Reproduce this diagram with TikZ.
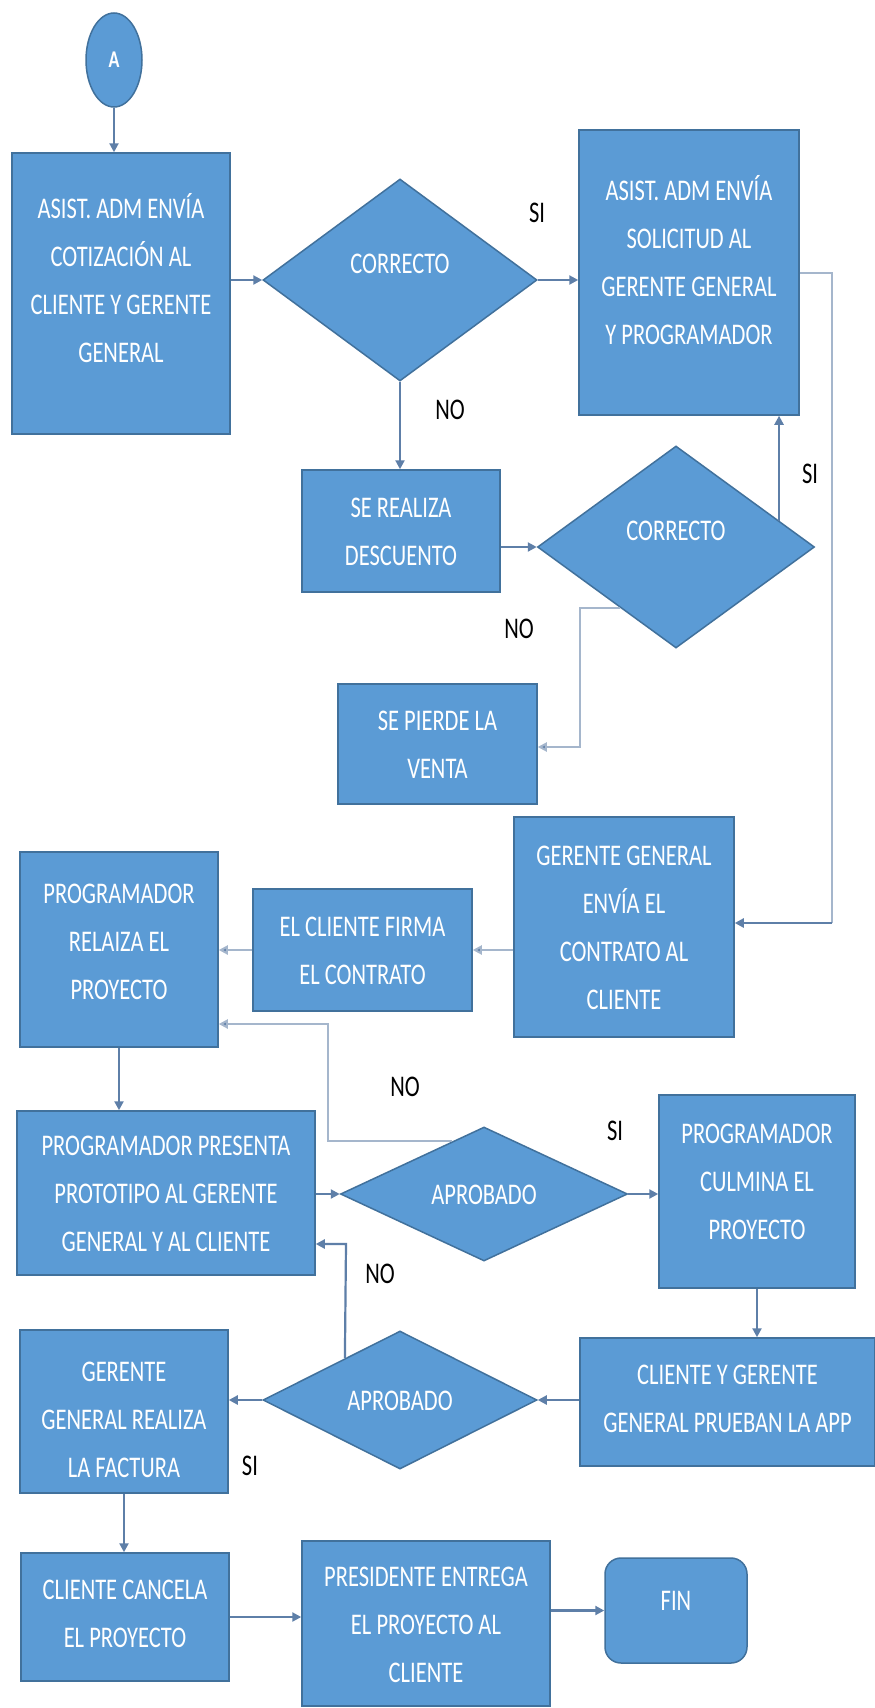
\documentclass[tikz,border=0pt]{standalone}
\usepackage{fontspec}
\usetikzlibrary{shapes.geometric,arrows.meta,calc}
\newfontfamily\boxfont[FakeStretch=0.75]{Carlito}
\definecolor{boxblue}{HTML}{5B9BD5}
\definecolor{boxedge}{HTML}{41719C}
\definecolor{lnk}{HTML}{5E7FA8}
\definecolor{lnklight}{HTML}{A5B6CC}
\newcommand\tx[2][0pt]{\raisebox{\dimexpr#1-7.5pt\relax}[0pt][0pt]{\begin{tabular}{@{}c@{}}#2\end{tabular}}}
\begin{document}
\begin{tikzpicture}[x=1pt,y=-1pt,
  box/.style={rectangle, fill=boxblue, draw=boxedge, line width=1.5pt, inner sep=0pt, text=white,
    font={\boxfont\fontsize{30}{48}\selectfont}},
  dia/.style={diamond, fill=boxblue, draw=boxedge, line width=1.5pt, inner sep=0pt, text=white,
    font={\boxfont\fontsize{30}{48}\selectfont}},
  term/.style={box, rounded corners=16pt},
  conn/.style={ellipse, fill=boxblue, draw=boxedge, line width=1.5pt, inner sep=0pt, text=white,
    font={\boxfont\bfseries\fontsize{24}{28}\selectfont}},
  lbl/.style={inner sep=0pt, text=black, font={\boxfont\fontsize{30}{36}\selectfont}},
  arr/.style={draw=lnk, line width=2.2pt, -{Triangle[length=9pt,width=9pt]}},
  arrl/.style={draw=lnklight, line width=2pt, -{Triangle[length=9pt,width=9pt,fill=lnk]}},
  ln/.style={draw=lnklight, line width=2pt}
]
\useasboundingbox[fill=white] (0,0) rectangle (875,1708);

% nodes
\node[conn, minimum width=56pt, minimum height=94pt] (A) at (114,60) {A};
\node[box, minimum width=218pt, minimum height=281pt] (b1) at (121,293.5)
  {\tx[14pt]{ASIST. ADM ENVÍA\\COTIZACIÓN AL\\CLIENTE Y GERENTE\\GENERAL}};
\node[dia, minimum width=274pt, minimum height=202pt] (d1) at (400,280) {\tx[17pt]{CORRECTO}};
\node[box, minimum width=220pt, minimum height=285pt] (b2) at (689,272.5)
  {\tx[11pt]{ASIST. ADM ENVÍA\\SOLICITUD AL\\GERENTE GENERAL\\Y PROGRAMADOR}};
\node[box, minimum width=198pt, minimum height=122pt] (b3) at (401,531)
  {\tx{SE REALIZA\\DESCUENTO}};
\node[dia, minimum width=277pt, minimum height=202pt] (d2) at (676,547) {\tx[17pt]{CORRECTO}};
\node[box, minimum width=199pt, minimum height=120pt] (b4) at (437.5,744)
  {\tx{SE PIERDE LA\\VENTA}};
\node[box, minimum width=220pt, minimum height=220pt] (b5) at (624,927)
  {\tx{GERENTE GENERAL\\ENVÍA EL\\CONTRATO AL\\CLIENTE}};
\node[box, minimum width=219pt, minimum height=122pt] (b6) at (362.5,950)
  {\tx{EL CLIENTE FIRMA\\EL CONTRATO}};
\node[box, minimum width=198pt, minimum height=195pt] (b7) at (119,949.5)
  {\tx[9pt]{PROGRAMADOR\\RELAIZA EL\\PROYECTO}};
\node[box, minimum width=298pt, minimum height=164pt] (b8) at (166,1193)
  {\tx{PROGRAMADOR PRESENTA\\PROTOTIPO AL GERENTE\\GENERAL Y AL CLIENTE}};
\node[dia, minimum width=287pt, minimum height=134pt] (d3) at (484,1194) {\tx{APROBADO}};
\node[box, minimum width=196pt, minimum height=193pt] (b9) at (757,1191.5)
  {\tx[11pt]{PROGRAMADOR\\CULMINA EL\\PROYECTO}};
\node[box, minimum width=295pt, minimum height=128pt] (b10) at (727.5,1402)
  {\tx[4pt]{CLIENTE Y GERENTE\\GENERAL PRUEBAN LA APP}};
\node[dia, minimum width=274pt, minimum height=138pt] (d4) at (400,1400) {\tx{APROBADO}};
\node[box, minimum width=208pt, minimum height=163pt] (b11) at (124,1411.5)
  {\tx[-7pt]{GERENTE\\GENERAL REALIZA\\LA FACTURA}};
\node[box, minimum width=208pt, minimum height=128pt] (b12) at (125,1617)
  {\tx[4pt]{CLIENTE CANCELA\\EL PROYECTO}};
\node[box, minimum width=248pt, minimum height=165pt] (b13) at (426,1623.5)
  {\tx{PRESIDENTE ENTREGA\\EL PROYECTO AL\\CLIENTE}};
\node[term, minimum width=142pt, minimum height=105pt] (fin) at (676,1610.5) {\tx[11pt]{FIN}};

% labels
\node[lbl] (si1) at (537,213) {SI};
\node[lbl] (no1) at (450,410) {NO};
\node[lbl] (si2) at (810,474) {SI};
\node[lbl] (no2) at (519,629) {NO};
\node[lbl] (no3) at (405,1087) {NO};
\node[lbl] (si3) at (615,1131) {SI};
\node[lbl] (no4) at (380,1274) {NO};
\node[lbl] (si4) at (250,1466) {SI};

% bend points
\coordinate (rr) at (832,923);
\coordinate (nl) at (580,747);
\coordinate (n3) at (328,1024);
\coordinate (n4) at (346,1244);
\coordinate (p2) at ($(d2.north)!0.74!(d2.east)$);
\coordinate (q2) at ($(d2.west)!0.6!(d2.south)$);
\coordinate (p3) at ($(d3.west)!0.78!(d3.north)$);
\coordinate (p4) at ($(d4.west)!0.6!(d4.north)$);

% connectors
\draw[arr] (A.south) -- (A.south |- b1.north);
\draw[arr] (b1.east |- d1.west) -- (d1.west);
\draw[arr] (d1.east) -- (d1.east -| b2.west);
\draw[ln] (b2.east) -| (rr);
\draw[arr] (rr) -- (rr -| b5.east);
\draw[arr] (d1.south) -- (d1.south |- b3.north);
\draw[arr] (b3.east |- d2.west) -- (d2.west);
\draw[arr] (p2) -- (p2 |- b2.south);
\draw[arrl] (q2) -| (nl) -- (nl -| b4.east);
\draw[arrl] (b5.west |- b6.east) -- (b6.east);
\draw[arrl] (b6.west) -- (b6.west -| b7.east);
\draw[arr] (b7.south) -- (b7.south |- b8.north);
\draw[arr] (b8.east |- d3.west) -- (d3.west);
\draw[arrl] (p3) -| (n3) -- (n3 -| b7.east);
\draw[arr] (d3.east) -- (d3.east -| b9.west);
\draw[arr] (b9.south) -- (b9.south |- b10.north);
\draw[arr] (b10.west |- d4.east) -- (d4.east);
\draw[arr] (d4.west) -- (d4.west -| b11.east);
\draw[arr] (p4) -- (n4) -- (n4 -| b8.east);
\draw[arr] (b11.south) -- (b11.south |- b12.north);
\draw[arr] (b12.east) -- (b12.east -| b13.west);
\draw[arr] (b13.east |- fin.west) -- (fin.west);
\end{tikzpicture}
\end{document}
